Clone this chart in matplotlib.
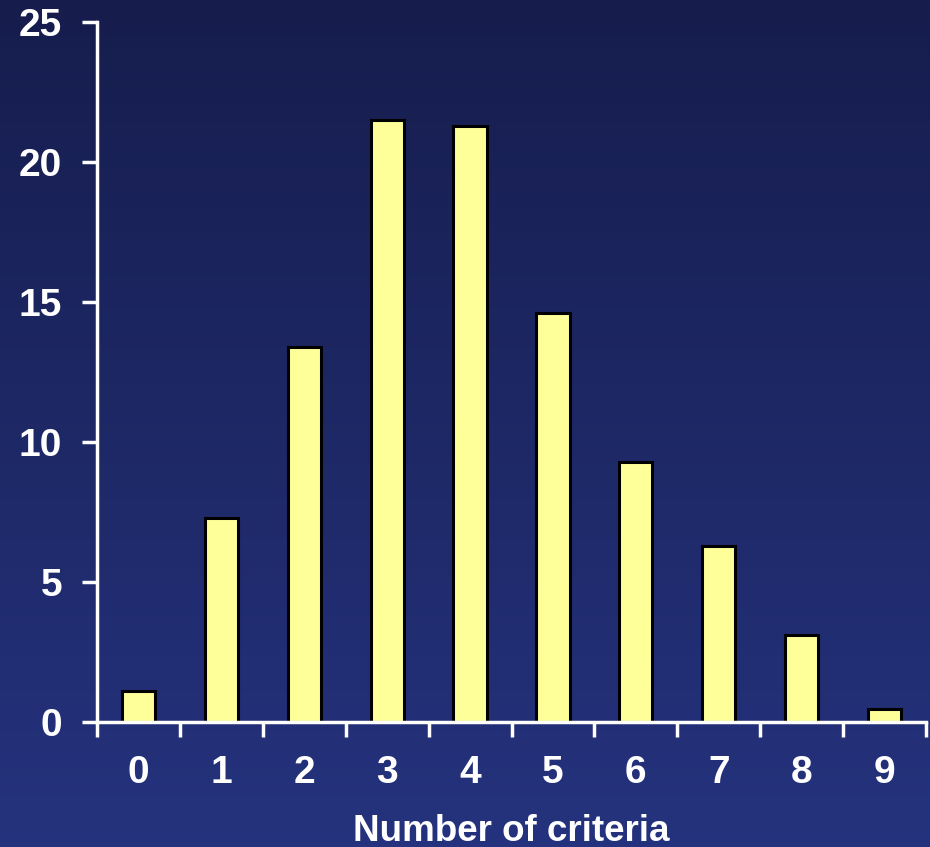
import matplotlib
matplotlib.use("Agg")
import matplotlib.pyplot as plt
import numpy as np
from matplotlib.colors import LinearSegmentedColormap

criteria = [0, 1, 2, 3, 4, 5, 6, 7, 8, 9]
percent = [1.1, 7.3, 13.4, 21.5, 21.3, 14.6, 9.3, 6.3, 3.1, 0.45]
y_ticks = [0, 5, 10, 15, 20, 25]

plt.rcParams['font.family'] = ['Liberation Sans', 'DejaVu Sans']

fig = plt.figure(figsize=(9.3, 8.47), dpi=100)

# navy gradient behind everything
bg = fig.add_axes([0, 0, 1, 1], zorder=-10)
cmap = LinearSegmentedColormap.from_list("navy", ["#161d4d", "#25337e"])
grad = np.linspace(0, 1, 256).reshape(-1, 1)
bg.imshow(grad, aspect="auto", cmap=cmap, extent=[0, 1, 0, 1], origin="upper")
bg.axis("off")

ax = fig.add_axes([97 / 930, 125 / 847, 829 / 930, 700 / 847])
ax.patch.set_alpha(0)
ax.bar(criteria, percent, width=0.4, color="#ffff99", edgecolor="black", linewidth=2.2)

ax.set_xlim(-0.5, 9.5)
ax.set_ylim(0, 25)

for side in ("top", "right"):
    ax.spines[side].set_visible(False)
for side in ("left", "bottom"):
    ax.spines[side].set_color("white")
    ax.spines[side].set_linewidth(2.5)

ax.set_yticks(y_ticks)
ax.set_yticklabels([str(t) for t in y_ticks])
ax.tick_params(axis="y", colors="white", length=11, width=2.5, labelsize=28, pad=14)
for lab in ax.get_yticklabels():
    lab.set_fontweight("bold")

# boundary ticks on the x axis, category labels centred between them
ax.set_xticks(np.arange(-0.5, 10, 1.0))
ax.set_xticklabels([])
ax.tick_params(axis="x", which="major", colors="white", length=11, width=2.5)
ax.set_xticks(criteria, minor=True)
ax.set_xticklabels([str(c) for c in criteria], minor=True)
ax.tick_params(axis="x", which="minor", length=0, labelsize=28, labelcolor="white", pad=24)
for lab in ax.get_xticklabels(minor=True):
    lab.set_fontweight("bold")

ax.set_xlabel("Number of criteria", color="white", fontsize=26.5, fontweight="bold", labelpad=16)

fig.savefig("out.png", dpi=100)
